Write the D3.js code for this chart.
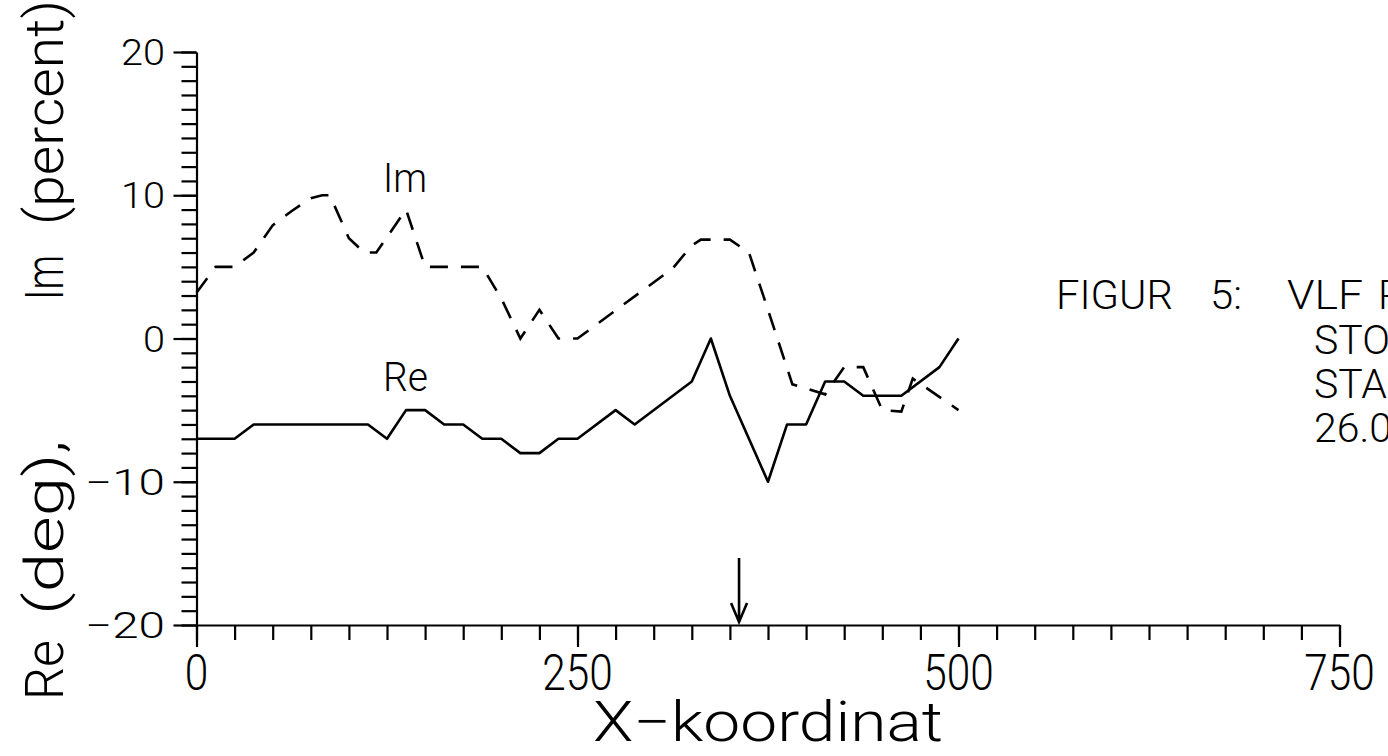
<!DOCTYPE html>
<html>
<head>
<meta charset="utf-8">
<script src="https://cdn.jsdelivr.net/npm/d3@7"></script>
<style>
  body { margin: 0; background: #fff; overflow: hidden; }
  svg { display: block; }
  text { font-family: Roboto, "Open Sans", Lato, "Liberation Sans", sans-serif; font-weight: 300; fill: #000; }
</style>
</head>
<body>
<svg id="chart"></svg>
<script>
// Values
const reX = [0, 25, 37.5, 112.5, 125, 137.5, 150, 162.5, 175, 187.5, 200, 212.5, 225, 237.5, 250, 275, 287.5, 325, 337.5, 350, 375, 387.5, 400, 412.5, 425, 437.5, 462.5, 487.5, 500];
const reY = [-7, -7, -6, -6, -7, -5, -5, -6, -6, -7, -7, -8, -8, -7, -7, -5, -6, -3, 0, -4, -10, -6, -6, -3, -3, -4, -4, -2, 0];

const imX = [0, 12.5, 25, 37.5, 50, 62.5, 75, 82.5, 87.5, 100, 110, 118, 137.5, 150, 187.5, 200, 212.5, 225, 237.5, 250, 312.5, 325, 331, 350, 362.5, 375, 391, 412.5, 425, 437.5, 450, 462.5, 470, 500];
const imY = [3.2, 5, 5, 6, 7.9, 8.9, 9.8, 10, 10, 7, 6, 6, 9, 5, 5, 2.8, 0, 2, 0, 0, 4.9, 6.5, 6.9, 6.9, 6, 2, -3.2, -3.9, -2, -2, -5, -5.1, -2.8, -5];

const xMajor = [0, 250, 500, 750];
const yMajor = [-20, -10, 0, 10, 20];
const yLabels = ["\u221220", "\u221210", "0", "10", "20"];
const markerX = 356;   // arrow on the profile

const width = 1388;
const height = 756;

const svg = d3.select('#chart')
    .attr('width', width)
    .attr('height', height);

// Scales
const x = d3.scaleLinear().domain([0, 750]).range([196.5, 1339.5]);
const y = d3.scaleLinear().domain([-20, 20]).range([625, 52]);

// helper for narrow plotter-like text
function label(g, str, px, py, size, len, anchor) {
    const t = g.append('text')
        .attr('x', px)
        .attr('y', py)
        .attr('font-size', size)
        .attr('text-anchor', anchor || 'start')
        .text(str);
    if (len) t.attr('textLength', len).attr('lengthAdjust', 'spacingAndGlyphs');
    return t;
}

// Y axis: minor ticks every unit, major every 10
svg.append('g')
    .attr('transform', `translate(${x(0)},0)`)
    .call(d3.axisLeft(y).tickValues(d3.range(-20, 21, 1)).tickSize(15).tickSizeOuter(0).tickFormat(''));
svg.append('g')
    .attr('transform', `translate(${x(0)},0)`)
    .call(d3.axisLeft(y).tickValues(yMajor).tickSize(23).tickSizeOuter(0).tickFormat(''))
    .select('.domain').remove();

// X axis: minor ticks every 25, major every 250
svg.append('g')
    .attr('transform', `translate(0,${y(-20)})`)
    .call(d3.axisBottom(x).tickValues(d3.range(0, 751, 25)).tickSize(15).tickSizeOuter(0).tickFormat(''));
svg.append('g')
    .attr('transform', `translate(0,${y(-20)})`)
    .call(d3.axisBottom(x).tickValues(xMajor).tickSize(22).tickSizeOuter(0).tickFormat(''))
    .select('.domain').remove();

svg.selectAll('.domain, .tick line')
    .attr('stroke', '#000')
    .attr('stroke-width', 2.2);

// tick labels
yMajor.forEach((v, i) => {
    const s = yLabels[i];
    label(svg, s, 165, y(v) + 13, 36, s.length * 22 + (s.startsWith('\u2212') ? 14 : 0), 'end');
});
xMajor.forEach(v => {
    const s = String(v);
    label(svg, s, x(v), 690, 50, s.length * 23.5, 'middle');
});

// axis titles
label(svg, 'X\u2212koordinat', x(375), 741, 55, 350, 'middle');

const yt = svg.append('g').attr('transform', 'translate(63,700) rotate(-90)');
label(yt, 'Re', 0, 0, 54, 60);
label(yt, '(deg),', 85, 0, 54, 175);
label(yt, 'Im', 400, 0, 54, 45);
label(yt, '(percent)', 475, 0, 54, 225);

// curves
const line = d3.line()
    .x(d => x(d[0]))
    .y(d => y(d[1]));

svg.append('path')
    .datum(d3.zip(reX, reY))
    .attr('d', line)
    .attr('fill', 'none')
    .attr('stroke', '#000')
    .attr('stroke-width', 2.6)
    .attr('stroke-linejoin', 'round');

svg.append('path')
    .datum(d3.zip(imX, imY))
    .attr('d', line)
    .attr('fill', 'none')
    .attr('stroke', '#000')
    .attr('stroke-width', 2.6)
    .attr('stroke-dasharray', '18,13');

// curve names
label(svg, 'Im', 383, 192, 40, 44);
label(svg, 'Re', 383, 391, 40, 45);

// arrow marking the anomaly
const ax = x(markerX);
svg.append('path')
    .attr('d', `M${ax},558 V${y(-20) - 3} M${ax - 8},${y(-20) - 22} L${ax},${y(-20) - 3} L${ax + 8},${y(-20) - 22}`)
    .attr('fill', 'none')
    .attr('stroke', '#000')
    .attr('stroke-width', 2.6);

// figure caption (cut by the page edge, as in the scan)
const cap = svg.append('g');
label(cap, 'FIGUR', 1056, 309, 41, 117);
label(cap, '5:', 1210, 309, 41, 32);
label(cap, 'VLF', 1287, 309, 41, 76);
label(cap, 'P', 1378, 309, 41);
label(cap, 'STO', 1314, 354, 41);
label(cap, 'STAS', 1314, 398, 41);
label(cap, '26.0', 1314, 442, 41);
</script>
</body>
</html>
